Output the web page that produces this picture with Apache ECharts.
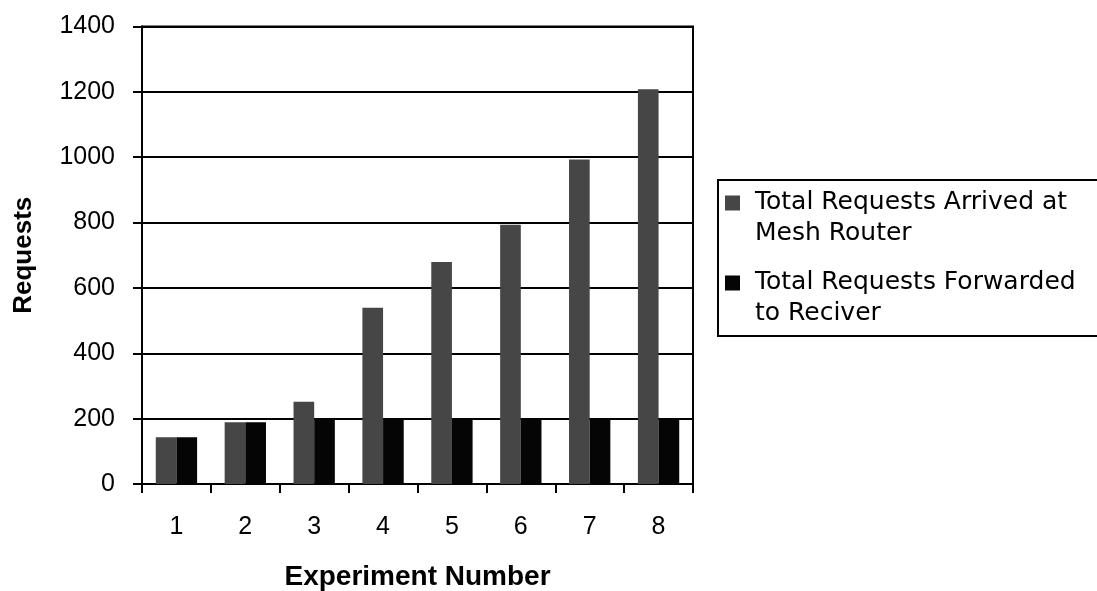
<!DOCTYPE html>
<html>
<head>
<meta charset="utf-8">
<script src="https://cdn.jsdelivr.net/npm/echarts@6/dist/echarts.min.js"></script>
<style>html,body{margin:0;padding:0;background:#fff}#c{width:1097px;height:591px}</style>
</head>
<body>
<div id="c"></div>
<script>
const categories = ['1', '2', '3', '4', '5', '6', '7', '8'];
const arrived = [143, 189, 252, 539, 679, 793, 993, 1208];
const forwarded = [143, 189, 200, 200, 200, 200, 200, 200];
const seriesNames = ['Total Requests Arrived at\nMesh Router', 'Total Requests Forwarded\nto Reciver'];
const yTicks = { min: 0, max: 1400, interval: 200 };

const font = 'Liberation Sans, Arial, sans-serif';
const legendFont = 'DejaVu Sans, Liberation Sans, sans-serif';
const icon = 'path://M0,0L0.01,0L0,0.01Z M0,8.5H15V23.5H0Z M0,62L0.01,62L0,61.99Z';

const chart = echarts.init(document.getElementById('c'), null, { renderer: 'canvas' });
chart.setOption({
  animation: false,
  backgroundColor: '#fff',
  grid: { left: 142, top: 26.5, right: 404, bottom: 107, containLabel: false, outerBoundsMode: 'none', show: true, borderColor: '#000', borderWidth: 2, backgroundColor: 'transparent' },
  legend: {
    orient: 'vertical',
    left: 718, top: 180,
    padding: [7, 80, 7, 7],
    itemGap: 18,
    itemWidth: 15, itemHeight: 62,
    icon: icon,
    borderColor: '#000', borderWidth: 2, backgroundColor: '#fff',
    textStyle: { fontFamily: legendFont, fontSize: 25, color: '#000', lineHeight: 31, padding: [0, 0, 0, 10] },
    data: seriesNames
  },
  xAxis: {
    type: 'category',
    data: categories,
    name: 'Experiment Number',
    nameLocation: 'middle',
    nameGap: 79,
    nameTextStyle: { fontFamily: font, fontSize: 28, fontWeight: 'bold', color: '#000' },
    axisLine: { lineStyle: { color: '#000', width: 2 } },
    axisTick: { show: true, length: 9, lineStyle: { color: '#000', width: 2 } },
    axisLabel: { fontFamily: font, fontSize: 25, color: '#000', margin: 31 }
  },
  yAxis: {
    type: 'value',
    min: yTicks.min, max: yTicks.max, interval: yTicks.interval,
    name: 'Requests',
    nameLocation: 'middle',
    nameGap: 105,
    nameRotate: 90,
    nameTextStyle: { fontFamily: font, fontSize: 26, fontWeight: 'bold', color: '#000' },
    axisLine: { show: true, lineStyle: { color: '#000', width: 2 } },
    axisTick: { show: true, length: 9, lineStyle: { color: '#000', width: 2 } },
    axisLabel: { fontFamily: font, fontSize: 25, color: '#000', margin: 27, formatter: v => String(v) },
    splitLine: { show: true, lineStyle: { color: '#000', width: 2 } }
  },
  series: [
    { name: seriesNames[0], type: 'bar', data: arrived, barGap: '0%', barCategoryGap: '40%', itemStyle: { color: '#464646' } },
    { name: seriesNames[1], type: 'bar', data: forwarded, barGap: '0%', barCategoryGap: '40%', itemStyle: { color: '#050505' } }
  ]
});
</script>
</body>
</html>
